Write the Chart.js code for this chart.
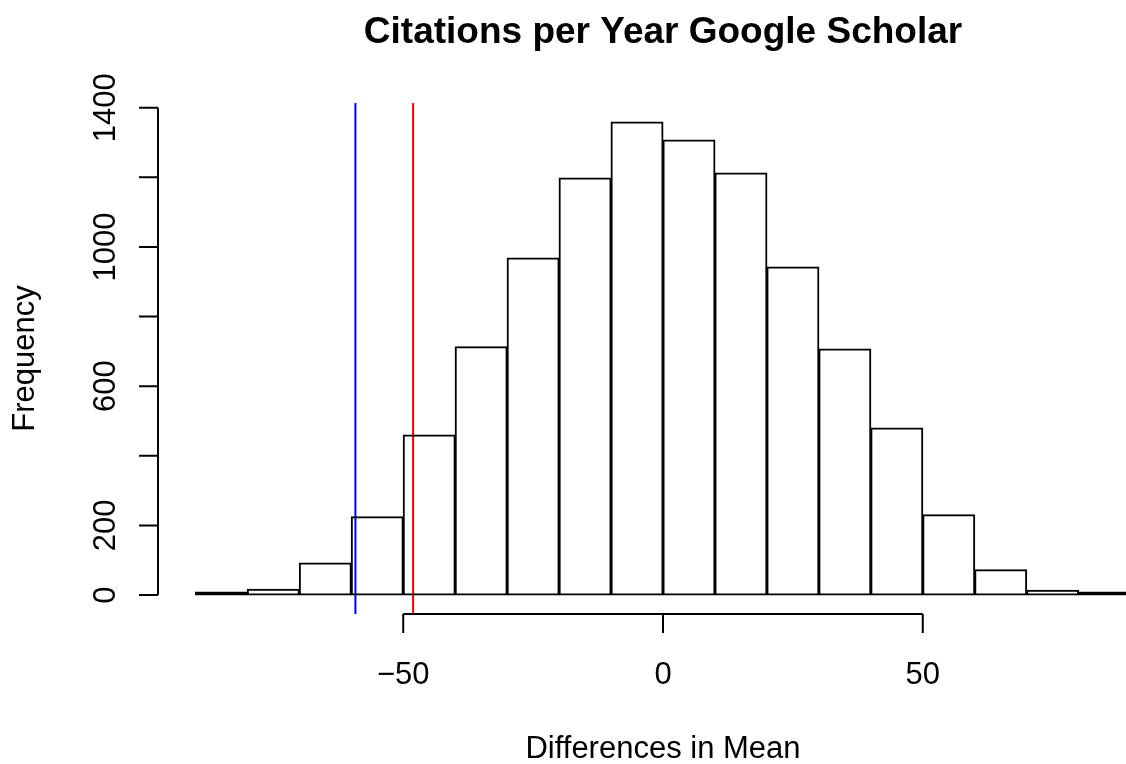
<!DOCTYPE html>
<html>
<head>
<meta charset="utf-8">
<title>Citations per Year Google Scholar</title>
<script src="https://cdn.jsdelivr.net/npm/chart.js@4.4.0/dist/chart.umd.min.js"></script>
<style>
    html, body { margin: 0; padding: 0; background: #ffffff; overflow: hidden; }
    #wrap { position: relative; width: 1126px; height: 764px; overflow: hidden; }
</style>
</head>
<body>
<div id="wrap"><canvas id="histChart" width="1168" height="764"></canvas></div>
<script>
// Histogram data
const binEdges = [-90, -80, -70, -60, -50, -40, -30, -20, -10, 0, 10, 20, 30, 40, 50, 60, 70, 80, 90];
const counts = [2, 17, 92, 225, 460, 713, 968, 1198, 1359, 1307, 1212, 942, 707, 480, 231, 73, 14, 2];

// Observed differences (vertical lines)
const observedDiffs = [-59.2, -48.1];
const observedColors = ['#0000ff', '#ff0000'];

// Axis ticks
const xTicks = [-50, 0, 50];
const xTickLabels = ['\u221250', '0', '50'];
const yTicks = [0, 200, 400, 600, 800, 1000, 1200, 1400];
const yTickLabels = ['0', '200', '', '600', '', '1000', '', '1400'];

const FONT = '"Liberation Sans", Arial, Helvetica, sans-serif';

// R style: axis ranges padded by 4% on each side
const xSpan = binEdges[binEdges.length - 1] - binEdges[0];
const xMin = binEdges[0] - 0.04 * xSpan;
const xMax = binEdges[binEdges.length - 1] + 0.04 * xSpan;
const yTop = Math.max(...counts);
const yMin = -0.04 * yTop;
const yMax = 1.04 * yTop;

// Draw base-graphics style axes and titles
const rAxesPlugin = {
    id: 'rAxes',
    afterDraw(chart) {
        const { ctx, chartArea, scales } = chart;
        const x = scales.x, y = scales.y;
        ctx.save();
        ctx.strokeStyle = '#000';
        ctx.fillStyle = '#000';
        ctx.lineWidth = 2;
        ctx.lineCap = 'butt';

        // y axis
        const ax = chartArea.left;
        ctx.beginPath();
        ctx.moveTo(ax, y.getPixelForValue(yTicks[0]));
        ctx.lineTo(ax, y.getPixelForValue(yTicks[yTicks.length - 1]));
        yTicks.forEach(v => {
            const py = y.getPixelForValue(v);
            ctx.moveTo(ax - 19, py);
            ctx.lineTo(ax, py);
        });
        ctx.stroke();

        ctx.font = '31px ' + FONT;
        ctx.textAlign = 'center';
        ctx.textBaseline = 'alphabetic';
        yTicks.forEach((v, i) => {
            if (!yTickLabels[i]) return;
            ctx.save();
            ctx.translate(115, y.getPixelForValue(v));
            ctx.rotate(-Math.PI / 2);
            ctx.fillText(yTickLabels[i], 0, 0);
            ctx.restore();
        });

        // x axis
        const ay = chartArea.bottom;
        ctx.beginPath();
        ctx.moveTo(x.getPixelForValue(xTicks[0]), ay);
        ctx.lineTo(x.getPixelForValue(xTicks[xTicks.length - 1]), ay);
        xTicks.forEach(v => {
            const px = x.getPixelForValue(v);
            ctx.moveTo(px, ay);
            ctx.lineTo(px, ay + 19);
        });
        ctx.stroke();

        xTicks.forEach((v, i) => {
            ctx.fillText(xTickLabels[i], x.getPixelForValue(v), 684);
        });

        // titles
        const cx = (chartArea.left + chartArea.right) / 2;
        ctx.fillText('Differences in Mean', cx, 758);
        ctx.save();
        ctx.translate(34, (chartArea.top + chartArea.bottom) / 2);
        ctx.rotate(-Math.PI / 2);
        ctx.fillText('Frequency', 0, 0);
        ctx.restore();

        ctx.font = 'bold 37px ' + FONT;
        ctx.fillText('Citations per Year Google Scholar', cx, 43);
        ctx.restore();
    }
};

const ctx = document.getElementById('histChart').getContext('2d');

new Chart(ctx, {
    type: 'bar',
    data: {
        datasets: [
            {
                type: 'bar',
                data: counts.map((c, i) => ({ x: (binEdges[i] + binEdges[i + 1]) / 2, y: c })),
                backgroundColor: 'rgba(0,0,0,0)',
                borderColor: '#000000',
                borderWidth: 1,
                borderSkipped: false,
                inflateAmount: 0.5,
                minBarLength: 3,
                barPercentage: 1,
                categoryPercentage: 1
            },
            ...observedDiffs.map((v, i) => ({
                type: 'line',
                data: [{ x: v, y: yMin }, { x: v, y: yMax }],
                borderColor: observedColors[i],
                borderWidth: 2,
                pointRadius: 0,
                fill: false
            }))
        ]
    },
    options: {
        responsive: false,
        animation: false,
        events: [],
        layout: { padding: { left: 158, right: 0, top: 103, bottom: 150 } },
        plugins: {
            legend: { display: false },
            tooltip: { enabled: false },
            title: { display: false }
        },
        scales: {
            x: { type: 'linear', display: false, offset: false, min: xMin, max: xMax, grid: { display: false } },
            y: { type: 'linear', display: false, min: yMin, max: yMax, grid: { display: false } }
        }
    },
    plugins: [rAxesPlugin]
});
</script>
</body>
</html>
